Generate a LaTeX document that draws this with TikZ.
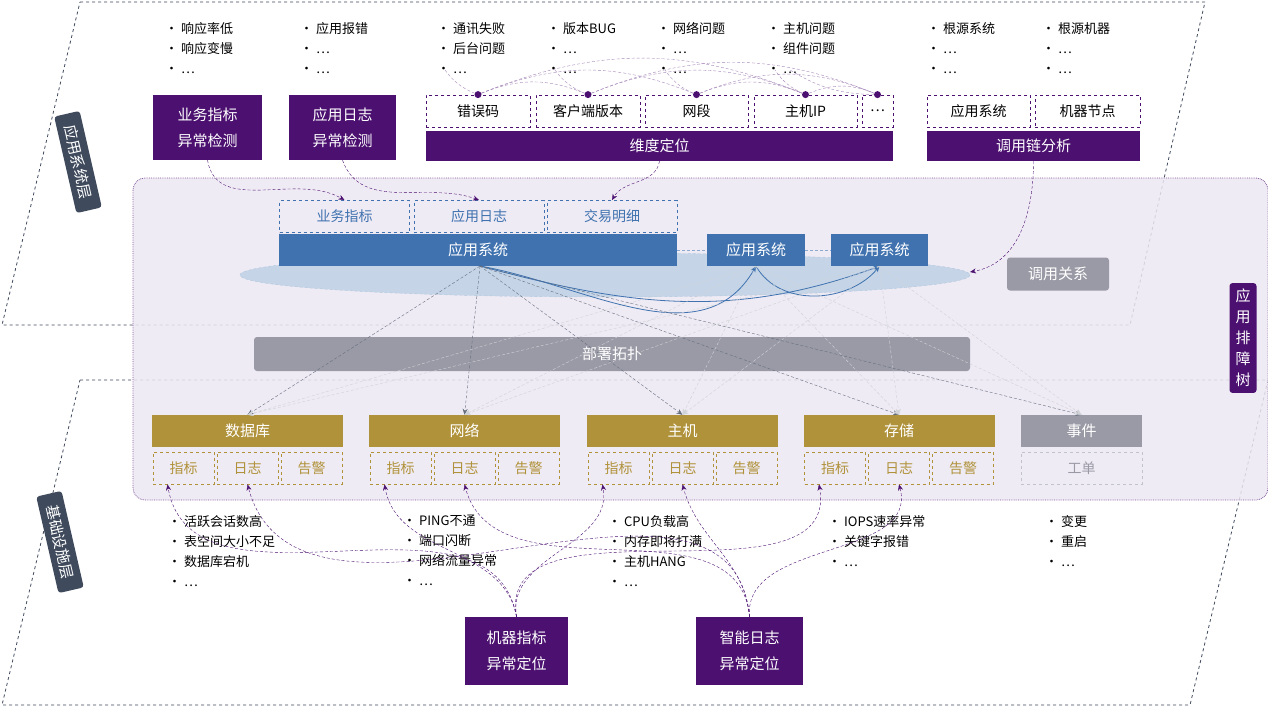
\documentclass[tikz,border=0pt]{standalone}
\usepackage{fontspec}
\setmainfont{Noto Sans CJK SC}
\usetikzlibrary{positioning,arrows.meta,shapes.geometric}
\definecolor{purp}{HTML}{4B1070}
\definecolor{appblue}{HTML}{3F72AF}
\definecolor{gold}{HTML}{B0923A}
\definecolor{greybox}{HTML}{9A9AA6}
\definecolor{slate}{HTML}{3F4A5C}
\definecolor{lav}{HTML}{ECE7F2}
\tikzset{
	>={Stealth[length=6pt,width=5pt]},
	layer/.style={draw=slate, dashed, thick},
	tag/.style={fill=slate, rounded corners=3pt, text=white, font=\fontsize{15}{18}\selectfont,
		align=center, inner xsep=12pt, inner ysep=6pt},
	pbox/.style={fill=purp, text=white, font=\fontsize{15}{26}\selectfont, align=center, inner sep=0pt},
	dimbox/.style={draw=purp, dashed, thick, fill=white, font=\fontsize{14}{16}\selectfont,
		minimum height=32pt, inner sep=0pt},
	bluedash/.style={draw=appblue, dashed, thick, text=appblue, font=\fontsize{14}{16}\selectfont,
		minimum width=130pt, minimum height=32pt, inner sep=0pt},
	app/.style={fill=appblue, text=white, font=\fontsize{15}{18}\selectfont, minimum height=32pt, inner sep=0pt},
	gbar/.style={fill=gold, text=white, font=\fontsize{15}{18}\selectfont,
		minimum width=191pt, minimum height=32pt, inner sep=0pt},
	gsub/.style={draw=gold, dashed, thick, text=gold, font=\fontsize{14}{16}\selectfont,
		minimum width=61pt, minimum height=32pt, inner sep=0pt},
	grey/.style={fill=greybox, text=white, rounded corners=3pt, font=\fontsize{15}{18}\selectfont,
		minimum height=33pt, inner sep=0pt},
	blist/.style={align=left, anchor=north west, font=\fontsize{13}{20}\selectfont, inner sep=0pt},
	pflow/.style={->, draw=purp, densely dashed, thin},
	gflow/.style={->, draw=slate!80, densely dashed, thin},
	faint/.style={->, draw=slate!25, densely dashed, thin},
	link/.style={->, draw=appblue, thick},
	dot/.style={circle, fill=purp, inner sep=0pt, minimum size=7pt},
}
\begin{document}
\begin{tikzpicture}[x=1pt,y=-1pt]
\useasboundingbox (0,0) rectangle (1268,707);

% layers
\draw[layer] (80,2) -- (1205,2) -- (1130,325) -- (2,325) -- cycle;
\draw[layer] (80,380) -- (1268,380) -- (1190,705) -- (2,705) -- cycle;
\draw[draw=purp!70, densely dotted, thick, fill=lav, fill opacity=.85, rounded corners=12pt]
	(133,178) rectangle (1268,500);
\node[tag, rotate=-77] (applayer) at (78,162) {应用系统层};
\node[tag, rotate=-77] (baselayer) at (60,542) {基础设施层};
\node[tag, fill=purp, inner xsep=6pt, font=\fontsize{15}{21}\selectfont] (tree) at (1243,338) {应\\用\\排\\障\\树};

% top bullets
\node[blist] (b1) at (165,22) {• 响应率低\\• 响应变慢\\• …};
\node[blist] (b2) at (300,22) {• 应用报错\\• …\\• …};
\node[blist] (b3) at (437,22) {• 通讯失败\\• 后台问题\\• …};
\node[blist] (b4) at (547,22) {• 版本BUG\\• …\\• …};
\node[blist] (b5) at (657,22) {• 网络问题\\• …\\• …};
\node[blist] (b6) at (767,22) {• 主机问题\\• 组件问题\\• …};
\node[blist] (b7) at (927,22) {• 根源系统\\• …\\• …};
\node[blist] (b8) at (1042,22) {• 根源机器\\• …\\• …};

% detection boxes
\node[pbox, minimum width=109pt, minimum height=65pt] (bizdet) at (207.5,127.5) {业务指标\\异常检测};
\node[pbox, minimum width=107pt, minimum height=65pt] (logdet) at (342.5,127.5) {应用日志\\异常检测};

% dimensions
\node[dimbox, minimum width=104pt] (errc) at (478,111) {错误码};
\node[dimbox, minimum width=104pt] (cver) at (588,111) {客户端版本};
\node[dimbox, minimum width=103pt] (nseg) at (696.5,111) {网段};
\node[dimbox, minimum width=103pt] (hip) at (805.5,111) {主机IP};
\node[dimbox, minimum width=31pt] (dmore) at (877.5,111) {…};
\node[pbox, minimum width=467pt, minimum height=30pt] (dimloc) at (659.5,146) {维度定位};
\node[dimbox, minimum width=103pt] (rsys) at (978.5,111) {应用系统};
\node[dimbox, minimum width=105pt] (rnode) at (1087.5,111) {机器节点};
\node[pbox, minimum width=213pt, minimum height=30pt] (trace) at (1033.5,146) {调用链分析};

\foreach \n in {errc,cver,nseg,hip,dmore}
	\node[dot] (d\n) at (\n.north) {};
\foreach \a/\b in {errc/cver,errc/nseg,cver/hip,cver/dmore,nseg/dmore,errc/hip,nseg/hip,hip/dmore}
	\draw[purp!50, densely dashed] (d\a) to[bend left=22] (d\b);
\foreach \n/\x in {errc/445,cver/555,nseg/665,hip/775,dmore/790}
	\draw[purp!50, densely dashed] (d\n) to[bend left=15] (\x,70);

% application area
\node[bluedash] (bizm) at (344.5,216.5) {业务指标};
\node[bluedash] (applog) at (479,216.5) {应用日志};
\node[bluedash] (trade) at (612,216.5) {交易明细};
\draw[fill=appblue!30, draw=appblue!40, densely dashed] (605,275) ellipse (365 and 22);
\draw[appblue!60, densely dashed] (677,250) -- (707,250) (805,250) -- (831,250);
\node[app, minimum width=398pt] (app1) at (478,250) {应用系统};
\node[app, minimum width=98pt] (app2) at (756,250) {应用系统};
\node[app, minimum width=97pt] (app3) at (879.5,250) {应用系统};
\node[grey, minimum width=102pt] (callrel) at (1058,274) {调用关系};
\node[grey, minimum width=716pt, minimum height=34pt] (deploy) at (612,354) {部署拓扑};
\coordinate (hub) at (480,266);
\coordinate (ellr) at (970,272);

\draw[link] (hub) to[out=-10,in=-120] (app2.south);
\draw[link] (hub) to[out=-15,in=-160] (app3.south);
\draw[link] (app2.south) to[out=-60,in=-130] (app3.south);

\draw[pflow] (bizdet.south) to[out=-80,in=150] (bizm.north);
\draw[pflow] (logdet.south) to[out=-70,in=160] (applog.north);
\draw[pflow] (dimloc.south) to[out=-100,in=60] (trade.north);
\draw[pflow] (trace.south) to[out=-90,in=10] (ellr);

% infrastructure
\foreach \n/\t/\x in {db/数据库/247.5,net/网络/464.5,host/主机/682.5,stor/存储/899}{
	\node[gbar] (\n) at (\x,431) {\t};
	\node[gsub] (\n m) at (\x-64,468) {指标};
	\node[gsub] (\n l) at (\x,468) {日志};
	\node[gsub] (\n a) at (\x+64,468) {告警};
}
\node[grey, rounded corners=0pt, minimum width=121pt, minimum height=32pt] (event) at (1081.5,431) {事件};
\node[draw=greybox!60, dashed, thick, text=greybox, font=\fontsize{14}{16}\selectfont,
	minimum width=121pt, minimum height=32pt] (ticket) at (1081.5,468) {工单};

\foreach \n in {db,net,host,stor,event}{
	\draw[gflow] (hub) -- (\n.north);
	\draw[faint] (app2.south) -- (\n.north);
	\draw[faint] (app3.south) -- (\n.north);
}

% bottom bullets
\node[blist] (c1) at (168,515) {• 活跃会话数高\\• 表空间大小不足\\• 数据库宕机\\• …};
\node[blist] (c2) at (403,515) {• PING不通\\• 端口闪断\\• 网络流量异常\\• …};
\node[blist] (c3) at (608,515) {• CPU负载高\\• 内存即将打满\\• 主机HANG\\• …};
\node[blist] (c4) at (828,515) {• IOPS速率异常\\• 关键字报错\\• …};
\node[blist] (c5) at (1045,515) {• 变更\\• 重启\\• …};

\node[pbox, minimum width=103pt, minimum height=68pt] (mloc) at (516.5,651) {机器指标\\异常定位};
\node[pbox, minimum width=107pt, minimum height=68pt] (lloc) at (749.5,651) {智能日志\\异常定位};

\foreach \n in {db,net,host,stor}{
	\draw[pflow] (mloc.north) to[out=100,in=-80] ([xshift=-16pt]\n m.south);
	\draw[pflow] (lloc.north) to[out=95,in=-75] (\n l.south);
}
\end{tikzpicture}
\end{document}
